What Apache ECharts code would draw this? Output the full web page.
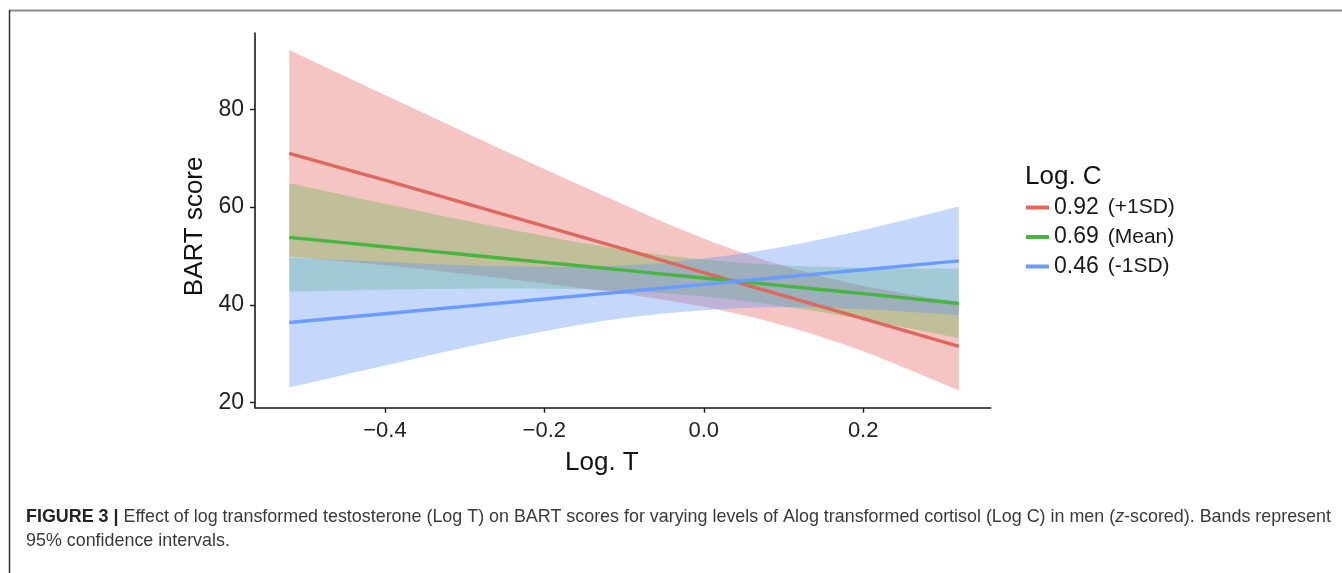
<!DOCTYPE html>
<html>
<head>
<meta charset="utf-8">
<script src="https://cdn.jsdelivr.net/npm/echarts@6/dist/echarts.min.js"></script>
<style>
html,body{margin:0;padding:0;background:#ffffff;}
#chart{width:1342px;height:573px;}
</style>
</head>
<body>
<div id="chart"></div>
<script>
// ---- data ----
const logT = [-0.52, -0.4, -0.3, -0.2, -0.1, 0.0, 0.1, 0.2, 0.32];

const highFit   = [71.0, 65.5, 60.8, 56.1, 51.4, 46.6, 41.9, 37.2, 31.5];
const highLower = [49.9, 48.1, 46.3, 44.4, 42.3, 39.6, 35.8, 30.5, 22.5];
const highUpper = [92.1, 82.9, 75.3, 67.8, 60.5, 53.6, 48.0, 43.9, 40.5];

const meanFit   = [53.8, 51.9, 50.3, 48.7, 47.1, 45.5, 43.9, 42.3, 40.3];
const meanLower = [42.7, 43.1, 43.3, 43.3, 42.9, 41.7, 39.7, 37.0, 33.2];
const meanUpper = [64.9, 60.7, 57.3, 54.1, 51.3, 49.3, 48.1, 47.6, 47.4];

const lowFit    = [36.4, 38.2, 39.7, 41.2, 42.7, 44.2, 45.7, 47.2, 49.0];
const lowLower  = [23.1, 27.6, 31.3, 34.6, 37.3, 38.9, 39.5, 39.1, 37.9];
const lowUpper  = [49.7, 48.8, 48.1, 47.8, 48.1, 49.5, 51.9, 55.3, 60.1];

const groupLevels = ['0.92', '0.69', '0.46'];
const groupNotes  = ['(+1SD)', '(Mean)', '(-1SD)'];

const xTicks = [-0.4, -0.2, 0.0, 0.2];
const yTicks = [20, 40, 60, 80];

const captionBold   = 'FIGURE 3 |';
const captionLine1a = ' Effect of log transformed testosterone (Log T) on BART scores for varying levels of Alog transformed cortisol (Log C) in men (';
const captionItalic = 'z';
const captionLine1b = '-scored). Bands represent';
const captionLine2  = '95% confidence intervals.';

// ---- styling ----
const FONT = '"Liberation Sans", Arial, Helvetica, sans-serif';
const lineColors = ['#DE675E', '#47B53F', '#6A9BFF'];
const bandColors = ['rgba(230,110,105,0.40)', 'rgba(70,180,60,0.30)', 'rgba(97,150,245,0.37)'];

const groups = [
  {fit: highFit, lower: highLower, upper: highUpper},
  {fit: meanFit, lower: meanLower, upper: meanUpper},
  {fit: lowFit,  lower: lowLower,  upper: lowUpper}
];

// smooth (Catmull-Rom) path segments through points given in pixel space
function splineSegments(pts) {
  let d = '';
  const n = pts.length;
  for (let i = 0; i < n - 1; i++) {
    const p0 = pts[Math.max(i - 1, 0)], p1 = pts[i], p2 = pts[i + 1], p3 = pts[Math.min(i + 2, n - 1)];
    const c1x = p1[0] + (p2[0] - p0[0]) / 6, c1y = p1[1] + (p2[1] - p0[1]) / 6;
    const c2x = p2[0] - (p3[0] - p1[0]) / 6, c2y = p2[1] - (p3[1] - p1[1]) / 6;
    d += ' C' + c1x + ' ' + c1y + ' ' + c2x + ' ' + c2y + ' ' + p2[0] + ' ' + p2[1];
  }
  return d;
}

const series = [];
groups.forEach((g, k) => {
  series.push({
    name: 'ci' + k, type: 'custom', silent: true,
    data: logT.map((x, i) => [x, g.lower[i], g.upper[i]]),
    encode: {x: 0, y: [1, 2]},
    renderItem: function (params, api) {
      if (params.dataIndex !== 0) return null;
      const up = logT.map((x, i) => api.coord([x, g.upper[i]]));
      const lo = logT.map((x, i) => api.coord([x, g.lower[i]])).reverse();
      const d = 'M' + up[0][0] + ' ' + up[0][1] + splineSegments(up) +
                ' L' + lo[0][0] + ' ' + lo[0][1] + splineSegments(lo) + ' Z';
      return {type: 'path', shape: {pathData: d}, style: {fill: bandColors[k], stroke: null}};
    }
  });
  series.push({
    name: groupLevels[k], type: 'line',
    data: logT.map((x, i) => [x, g.fit[i]]),
    symbol: 'none', smooth: 0.3,
    lineStyle: {color: lineColors[k], width: 3.4},
    itemStyle: {color: lineColors[k]}
  });
});

const fmtX = v => (v < 0 ? '\u2212' : '') + Math.abs(v).toFixed(1);

const option = {
  animation: false,
  backgroundColor: '#ffffff',
  textStyle: {fontFamily: FONT},
  grid: {left: 255, top: 33, width: 735.7, height: 374.7},
  xAxis: {
    type: 'value', min: -0.563, max: 0.36,
    name: 'Log. T', nameLocation: 'middle', nameGap: 42,
    nameTextStyle: {fontSize: 26, color: '#111', fontFamily: FONT, padding: [0, 42, 0, 0]},
    axisLine: {show: true, onZero: false, lineStyle: {color: '#1a1a1a', width: 1.6}},
    axisTick: {show: true, customValues: xTicks, length: 5, lineStyle: {color: '#1a1a1a', width: 1.4}},
    axisLabel: {customValues: xTicks, formatter: fmtX, fontSize: 22, color: '#222', margin: 12, fontFamily: FONT},
    splitLine: {show: false}
  },
  yAxis: {
    type: 'value', min: 18.98, max: 95.6,
    name: 'BART score', nameLocation: 'middle', nameGap: 46, nameRotate: 90,
    nameTextStyle: {fontSize: 26, color: '#111', fontFamily: FONT, padding: [0, 12, 0, 0]},
    axisLine: {show: true, onZero: false, lineStyle: {color: '#1a1a1a', width: 1.6}},
    axisTick: {show: true, customValues: yTicks, length: 5, lineStyle: {color: '#1a1a1a', width: 1.4}},
    axisLabel: {customValues: yTicks, fontSize: 23, color: '#222', margin: 11, fontFamily: FONT},
    splitLine: {show: false}
  },
  legend: {
    data: groupLevels,
    orient: 'vertical', left: 1026, top: 196, padding: 0,
    icon: 'rect', itemWidth: 23, itemHeight: 4, itemGap: 6.5,
    selectedMode: false,
    formatter: name => '{v|' + name + '}{n|' + groupNotes[groupLevels.indexOf(name)] + '}',
    textStyle: {
      fontFamily: FONT, color: '#1a1a1a',
      rich: {
        v: {fontSize: 23, lineHeight: 26, color: '#1a1a1a', fontFamily: FONT},
        n: {fontSize: 21, lineHeight: 26, color: '#1a1a1a', fontFamily: FONT, padding: [0, 0, 0, 9]}
      }
    }
  },
  graphic: [
    {type: 'line', silent: true, shape: {x1: 9, y1: 10.5, x2: 1342, y2: 10.5}, style: {stroke: '#8c8c8c', lineWidth: 2}},
    {type: 'line', silent: true, shape: {x1: 9.5, y1: 10, x2: 9.5, y2: 573}, style: {stroke: '#333333', lineWidth: 1.5}},
    {type: 'text', left: 1025, top: 164, silent: true,
      style: {text: 'Log. C', fontSize: 26, fill: '#111', fontFamily: FONT}},
    {type: 'text', left: 26, top: 508, silent: true,
      style: {
        text: '{b|' + captionBold + '}' + captionLine1a + '{i|' + captionItalic + '}' + captionLine1b,
        fontSize: 17.9, fill: '#3a3a3a', fontFamily: FONT,
        rich: {
          b: {fontSize: 17.9, fontWeight: 'bold', fill: '#222', fontFamily: FONT},
          i: {fontSize: 17.9, fontStyle: 'italic', fill: '#3a3a3a', fontFamily: FONT}
        }
      }},
    {type: 'text', left: 26, top: 532, silent: true,
      style: {text: captionLine2, fontSize: 17.9, fill: '#3a3a3a', fontFamily: FONT}}
  ],
  series: series
};

const chart = echarts.init(document.getElementById('chart'), null, {renderer: 'canvas'});
chart.setOption(option);
</script>
</body>
</html>
